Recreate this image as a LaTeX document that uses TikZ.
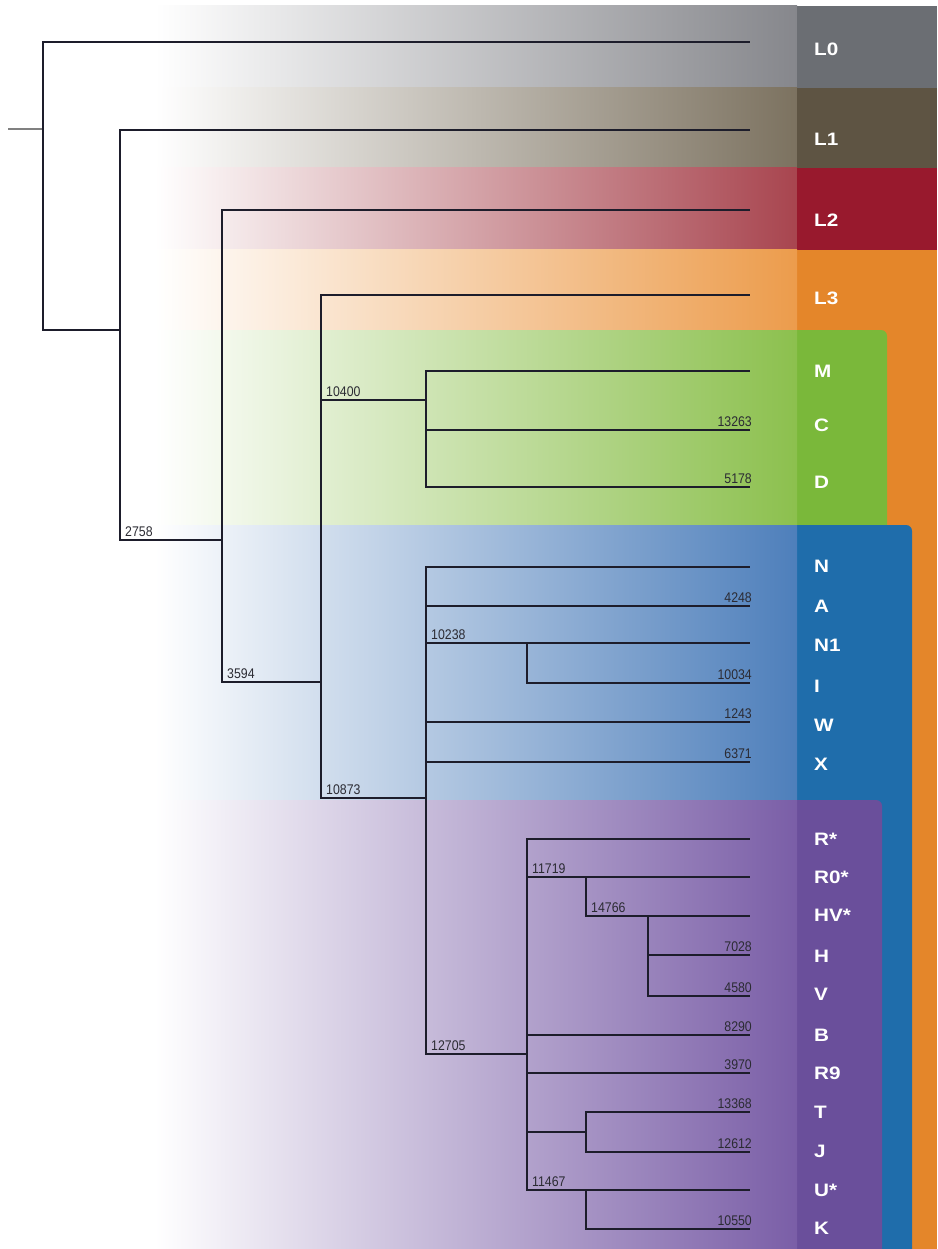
\documentclass[tikz,border=0pt]{standalone}
\usepackage{fontspec}
\setmainfont{Liberation Sans}
\newfontfamily\agefont[FakeStretch=0.88]{Liberation Sans}
\newfontfamily\leaffont[FakeStretch=1.15]{Liberation Sans}

\definecolor{treeline}{HTML}{1D1D2B}
\definecolor{agetext}{HTML}{2B2B33}
\definecolor{gryA}{HTML}{86878C}
\definecolor{gryB}{HTML}{6B6E73}
\definecolor{brnA}{HTML}{7C7260}
\definecolor{brnB}{HTML}{5E5443}
\definecolor{redA}{HTML}{A8454F}
\definecolor{redB}{HTML}{98192D}
\definecolor{orgA}{HTML}{EC9C4C}
\definecolor{orgB}{HTML}{E4862A}
\definecolor{grnA}{HTML}{8CC04E}
\definecolor{grnB}{HTML}{7AB83A}
\definecolor{bluA}{HTML}{4E7FBB}
\definecolor{bluB}{HTML}{1F6DAB}
\definecolor{purA}{HTML}{7A5EA7}
\definecolor{purB}{HTML}{6A4F9B}

\begin{document}
\begin{tikzpicture}[x=1pt,y=-1pt,
  branch/.style={line width=2pt, color=treeline},
  stubline/.style={line width=1.3pt, color=gray},
  leaf/.style={anchor=west, inner sep=0, text=white, font=\leaffont\bfseries\fontsize{18}{18}\selectfont},
  age/.style={inner sep=0, text=agetext, font=\agefont\fontsize{14}{14}\selectfont}]
\useasboundingbox (0,0) rectangle (937,1249);

% colour bands, white on the left
\shade[left color=white, right color=gryA] (155,6) rectangle (797,88);
\fill[gryB] (797,6) rectangle (937,88);
\shade[left color=white, right color=brnA] (155,88) rectangle (797,168);
\fill[brnB] (797,88) rectangle (937,168);
\shade[left color=white, right color=redA] (155,168) rectangle (797,250);
\fill[redB] (797,168) rectangle (937,250);
\fill[orgB] (797,250) rectangle (937,1249);
\shade[left color=white, right color=orgA] (155,250) rectangle (797,330);

\fill[grnB, rounded corners=6pt] (700,330) rectangle (887,540);
\shade[left color=white, right color=grnA] (155,330) rectangle (797,525);
\fill[bluB, rounded corners=6pt] (700,525) rectangle (912,1262);
\shade[left color=white, right color=bluA] (155,525) rectangle (797,800);
\fill[purB, rounded corners=6pt] (700,800) rectangle (882,1262);
\shade[left color=white, right color=purA] (155,800) rectangle (797,1249);

% inner nodes of the tree
\coordinate (stub) at (8,129);
\coordinate (root) at (43,129);
\coordinate (n1) at (120,330);
\coordinate (n2) at (222,540);
\coordinate (n3) at (321,682);
\coordinate (nMCD) at (426,400);
\coordinate (nNX) at (426,798);
\coordinate (nNI) at (527,643);
\coordinate (nRK) at (527,1054);
\coordinate (nRH) at (586,877);
\coordinate (nHV) at (648,916);
\coordinate (nTJ) at (586,1132);
\coordinate (nUK) at (586,1190);

% tips and their names
\foreach \n/\y/\t/\ly in {L0/42/L0/49, L1/130/L1/139, L2/210/L2/220, L3/295/L3/298,
    M/371/M/371, C/430/C/425, D/487/D/482,
    N/567/N/566, A/606/A/606, N1/643/N1/645, I/683/I/686, W/722/W/725, X/762/X/764,
    Rs/839/R*/839, R0s/877/R0*/877, HVs/916/HV*/915, H/955/H/956, V/996/V/994,
    B/1035/B/1035, R9/1073/R9/1073, T/1112/T/1112, J/1152/J/1151, Us/1190/U*/1190, K/1229/K/1228}
{
  \coordinate (t\n) at (750,\y);
  \node[leaf] (lab\n) at (814,\ly) {\t};
}

\draw[stubline] (stub) -- (root);
\foreach \a/\b in {root/tL0, root/n1, n1/tL1, n1/n2, n2/tL2, n2/n3, n3/tL3, n3/nMCD, n3/nNX,
    nMCD/tM, nMCD/tC, nMCD/tD,
    nNX/tN, nNX/tA, nNX/nNI, nNI/tN1, nNI/tI, nNX/tW, nNX/tX, nNX/nRK,
    nRK/tRs, nRK/nRH, nRH/tR0s, nRH/nHV, nHV/tHVs, nHV/tH, nHV/tV,
    nRK/tB, nRK/tR9, nRK/nTJ, nTJ/tT, nTJ/tJ, nRK/nUK, nUK/tUs, nUK/tK}
  \draw[branch] (\a) |- (\b);

% numbers on the branches
\foreach \p/\c/\v in {n1/n2/2758, n2/n3/3594, n3/nMCD/10400, n3/nNX/10873, nNX/nNI/10238,
    nNX/nRK/12705, nRK/nRH/11719, nRH/nHV/14766, nRK/nUK/11467}
  \node[age, anchor=south west, xshift=5pt, yshift=3pt] (a\v) at (\p |- \c) {\v};
\foreach \n/\v in {C/13263, D/5178, A/4248, I/10034, W/1243, X/6371, H/7028, V/4580,
    B/8290, R9/3970, T/13368, J/12612, K/10550}
  \node[age, anchor=south east, xshift=2pt, yshift=3pt] (v\n) at (t\n) {\v};

\end{tikzpicture}
\end{document}
